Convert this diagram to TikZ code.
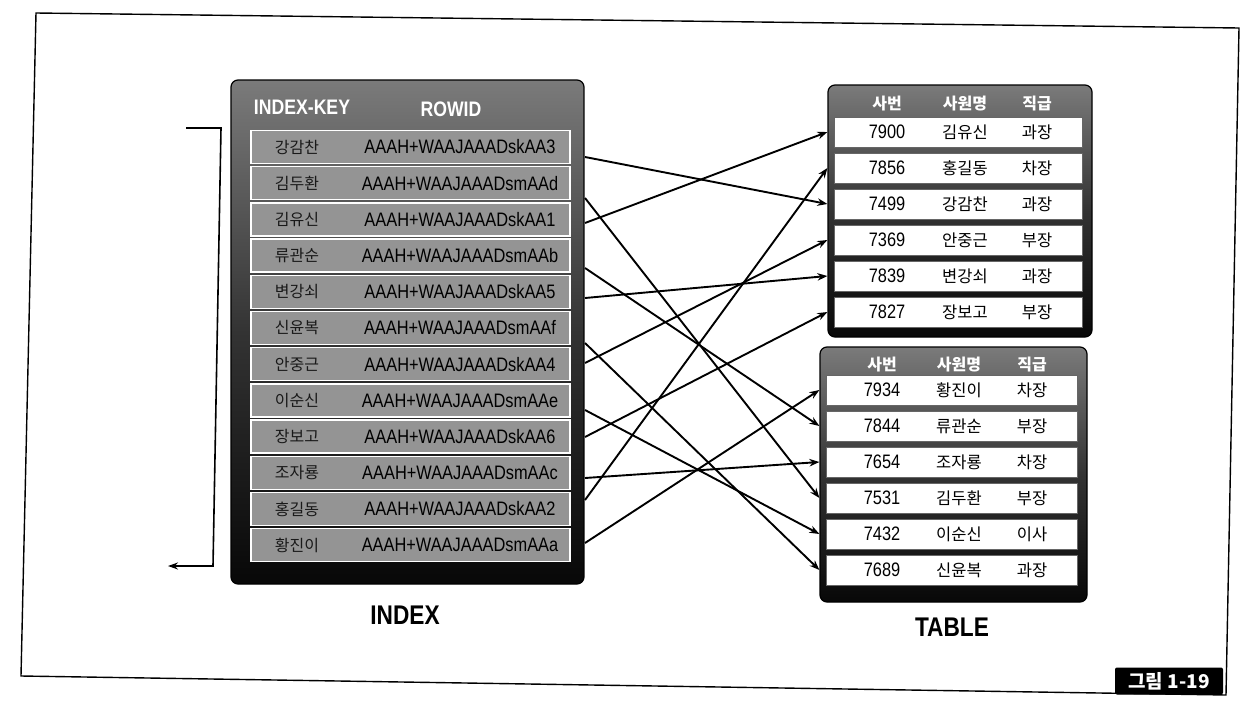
\documentclass[tikz,border=0pt]{standalone}
\usepackage{fontspec}
\setmainfont{Liberation Sans}
\newfontfamily\kr{Noto Sans CJK KR}
\newfontfamily\cond[FakeStretch=0.84]{Liberation Sans}
\usetikzlibrary{arrows.meta,calc}
\tikzset{
  darkbox/.style={rounded corners=7pt, top color=black!52, bottom color=black!97, middle color=black!80, draw=black, line width=1.2pt, inner sep=0},
  irow/.style={fill=black!42, draw=white, line width=1.3pt, minimum width=319pt, minimum height=33pt, inner sep=0},
  trow/.style={fill=white, draw=black!60, line width=0.6pt, minimum height=30pt, inner sep=0},
  iname/.style={font=\kr\fontsize{16}{16}\selectfont, text=black!90, inner sep=0},
  irid/.style={font=\cond\fontsize{19.5}{19.5}\selectfont, text=black, inner sep=0},
  ihead/.style={font=\cond\bfseries\fontsize{21}{21}\selectfont, text=white, inner sep=0},
  thead/.style={font=\kr\bfseries\fontsize{16}{16}\selectfont, text=white, inner sep=0},
  tnum/.style={font=\cond\fontsize{19.5}{19.5}\selectfont, text=black, inner sep=0},
  tkr/.style={font=\kr\fontsize{16.5}{16.5}\selectfont, text=black, inner sep=0},
  biglabel/.style={font=\cond\bfseries\fontsize{27}{27}\selectfont, text=black, inner sep=0},
  link/.style={line width=1.9pt, -{Stealth[length=10pt,width=7.5pt]}},
}
\begin{document}
\begin{tikzpicture}[x=1pt,y=-1pt]
\useasboundingbox (0,0) rectangle (1248,712);
\fill[white] (0,0) rectangle (1248,712);
% frame
\draw[line width=1.4pt] (36,13) -- (1239,28) -- (1226,695) -- (21,676) -- cycle;
\node[fill=black, rounded corners=2pt, minimum width=108pt, minimum height=27pt, inner sep=0,
      font=\kr\bfseries\fontsize{19}{19}\selectfont, text=white] (fig) at (1169,681) {그림 1-19};

% bracket
\coordinate (bt) at (186,128);
\coordinate (btr) at (221,128);
\coordinate (bbr) at (213,566);
\coordinate (bl) at (168,566);
\draw[line width=1.6pt, -{Stealth[length=10pt,width=7pt]}] (bt) -- (btr) -- (bbr) -- (bl);

% index box
\node[darkbox, minimum width=353pt, minimum height=504pt] (ibox) at (407.5,332) {};
\node[ihead] (hkey) at (302,107) {INDEX-KEY};
\node[ihead] (hrid) at (451,109) {ROWID};
\foreach \n/\r [count=\k from 0] in {
  강감찬/AAAH+WAAJAAADskAA3, 김두환/AAAH+WAAJAAADsmAAd, 김유신/AAAH+WAAJAAADskAA1,
  류관순/AAAH+WAAJAAADsmAAb, 변강쇠/AAAH+WAAJAAADskAA5, 신윤복/AAAH+WAAJAAADsmAAf,
  안중근/AAAH+WAAJAAADskAA4, 이순신/AAAH+WAAJAAADsmAAe, 장보고/AAAH+WAAJAAADskAA6,
  조자룡/AAAH+WAAJAAADsmAAc, 홍길동/AAAH+WAAJAAADskAA2, 황진이/AAAH+WAAJAAADsmAAa}{
  \node[irow] (i\k) at (410.5,147+36.2*\k) {};
  \node[iname] (in\k) at (297,147+36.2*\k) {\n};
  \node[irid] (ir\k) at (460,147+36.2*\k) {\r};
}

% upper table
\node[darkbox, minimum width=264pt, minimum height=252pt] (ubox) at (960,211) {};
\node[thead] (uh1) at (887,104) {사번};
\node[thead] (uh2) at (965,104) {사원명};
\node[thead] (uh3) at (1037,104) {직급};
\foreach \a/\b/\c [count=\k from 0] in {7900/김유신/과장, 7856/홍길동/차장, 7499/강감찬/과장,
  7369/안중근/부장, 7839/변강쇠/과장, 7827/장보고/부장}{
  \node[trow, minimum width=248pt] (u\k) at (958,132+36*\k) {};
  \node[tnum] (ua\k) at (887,132+36*\k) {\a};
  \node[tkr] (ub\k) at (965,132+36*\k) {\b};
  \node[tkr] (uc\k) at (1037,132+36*\k) {\c};
}

% lower table
\node[darkbox, minimum width=267pt, minimum height=255pt] (lbox) at (953.5,474.5) {};
\node[thead] (lh1) at (882,365) {사번};
\node[thead] (lh2) at (959,365) {사원명};
\node[thead] (lh3) at (1032,365) {직급};
\foreach \a/\b/\c [count=\k from 0] in {7934/황진이/차장, 7844/류관순/부장, 7654/조자룡/차장,
  7531/김두환/부장, 7432/이순신/이사, 7689/신윤복/과장}{
  \node[trow, minimum width=251pt] (l\k) at (951.5,390+36*\k) {};
  \node[tnum] (la\k) at (882,390+36*\k) {\a};
  \node[tkr] (lb\k) at (959,390+36*\k) {\b};
  \node[tkr] (lc\k) at (1032,390+36*\k) {\c};
}

% labels
\node[biglabel] (lidx) at (405,615) {INDEX};
\node[biglabel] (ltab) at (952,627) {TABLE};

% connector start points on index box edge
\foreach \y [count=\k from 0] in {157,198,223,268,298,343,363,410,437,478,500,543}{
  \coordinate (s\k) at (585,\y);
}
\draw[link] (s0) -- (ubox.west |- u2);
\draw[link] (s1) -- (lbox.west |- l3);
\draw[link] (s2) -- (ubox.west |- u0);
\draw[link] (s3) -- (lbox.west |- l1);
\draw[link] (s4) -- (ubox.west |- u4);
\draw[link] (s5) -- (lbox.west |- l5);
\draw[link] (s6) -- (ubox.west |- u3);
\draw[link] (s7) -- (lbox.west |- l4);
\draw[link] (s8) -- (ubox.west |- u5);
\draw[link] (s9) -- (lbox.west |- l2);
\draw[link] (s10) -- (ubox.west |- u1);
\draw[link] (s11) -- (lbox.west |- l0);
\end{tikzpicture}
\end{document}
